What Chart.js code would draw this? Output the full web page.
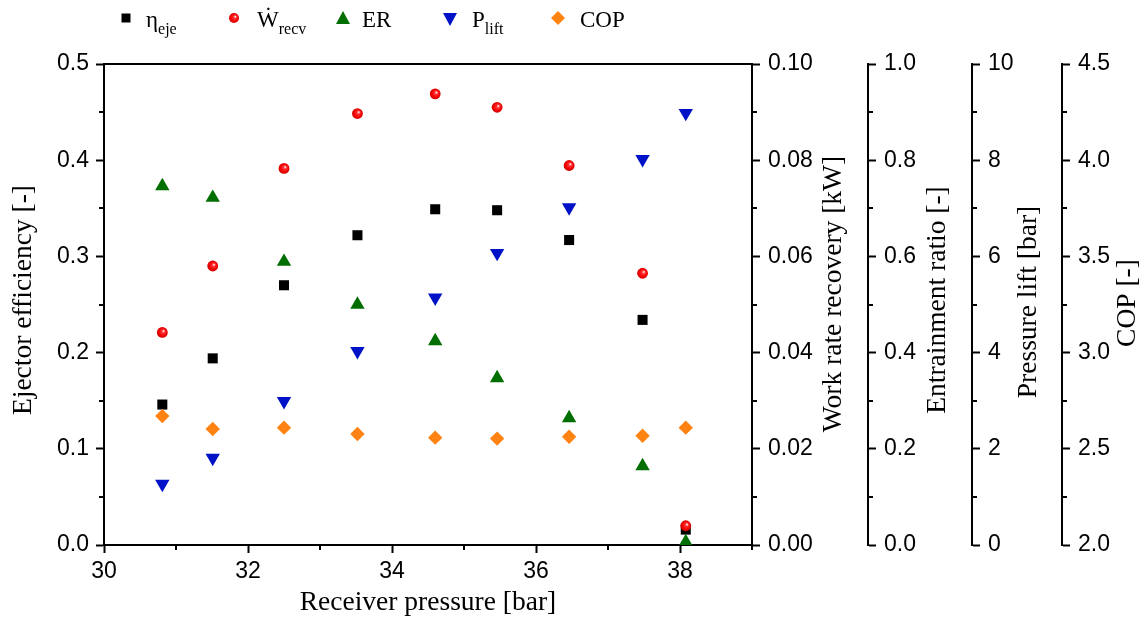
<!DOCTYPE html>
<html><head><meta charset="utf-8">
<script src="https://cdn.jsdelivr.net/npm/chart.js@4"></script>
<style>html,body{margin:0;padding:0;background:#fff}#wrap{width:1146px;height:634px}</style>
</head><body><div id="wrap"><canvas id="c" width="1146" height="634"></canvas></div>
<script>
// ---- data ----
const pressure = [30.81, 31.51, 32.50, 33.52, 34.60, 35.46, 36.46, 37.48, 38.08];
const etaEje   = [0.146, 0.194, 0.270, 0.322, 0.349, 0.348, 0.317, 0.234, 0.016];
const wRecv    = [0.0442, 0.0580, 0.0783, 0.0897, 0.0938, 0.0910, 0.0789, 0.0565, 0.0040];
const entRatio = [0.746, 0.722, 0.589, 0.500, 0.424, 0.347, 0.264, 0.164, 0.006];
const pLift    = [1.27, 1.81, 2.99, 4.03, 5.14, 6.07, 7.02, 8.02, 8.98];
const cop      = [2.670, 2.603, 2.610, 2.577, 2.558, 2.553, 2.563, 2.568, 2.610];
const xTicks   = [30, 32, 34, 36, 38];
const xMinor   = [31, 33, 35, 37, 39];

const SANS = '"Liberation Sans", Arial, sans-serif';
const SERIF = '"Liberation Serif", "Times New Roman", "DejaVu Serif", serif';
const C_BLACK = '#000000', C_RED = '#ff0000', C_GREEN = '#006e00', C_BLUE = '#0012c8', C_ORANGE = '#ff8312';

function pts(ys) { return pressure.map((x, i) => ({ x, y: ys[i] })); }

function redFill(ctx) {
  if (!ctx.parsed || !ctx.chart.scales.x) return C_RED;
  const ch = ctx.chart;
  const px = ch.scales.x.getPixelForValue(ctx.parsed.x);
  const py = ch.scales.y2.getPixelForValue(ctx.parsed.y);
  if (!isFinite(px) || !isFinite(py)) return C_RED;
  const g = ch.ctx.createRadialGradient(px + 1.5, py - 1.5, 0, px, py, 5.8);
  g.addColorStop(0, '#ffffff');
  g.addColorStop(0.3, '#ff3030');
  g.addColorStop(0.7, '#f00000');
  g.addColorStop(1, '#c80000');
  return g;
}

function yAxis(pos, min, max, step, dec, width, weight) {
  return {
    type: 'linear', position: pos, min, max, weight,
    ticks: { stepSize: step, font: { family: SANS, size: 23 }, color: '#000',
             padding: pos === 'left' ? 7 : 8, callback: v => Number(v).toFixed(dec) },
    grid: { drawOnChartArea: false, drawTicks: true, tickLength: 8, tickWidth: 2, tickColor: '#000' },
    border: { display: true, color: '#000', width: 2 },
    afterFit: s => { s.width = width; }
  };
}

const frame = {
  id: 'frame',
  afterDraw(chart) {
    const ctx = chart.ctx, a = chart.chartArea;
    ctx.save();
    ctx.strokeStyle = '#000'; ctx.lineWidth = 2;
    ctx.beginPath(); ctx.moveTo(a.left - 1, a.top); ctx.lineTo(a.right + 1, a.top); ctx.stroke();
    // minor ticks
    const L = 5;
    const sx = chart.scales.x;
    ctx.beginPath();
    xMinor.forEach(v => { const p = Math.round(sx.getPixelForValue(v)); ctx.moveTo(p, sx.top); ctx.lineTo(p, sx.top + L); });
    ['y1', 'y2', 'y3', 'y4', 'y5'].forEach(id => {
      const s = chart.scales[id];
      const t = s.ticks.map(k => k.value);
      for (let i = 0; i < t.length - 1; i++) {
        const p = Math.round(s.getPixelForValue((t[i] + t[i + 1]) / 2));
        if (s.position === 'left') { ctx.moveTo(s.right, p); ctx.lineTo(s.right - L, p); }
        else { ctx.moveTo(s.left, p); ctx.lineTo(s.left + L, p); }
      }
    });
    ctx.stroke();

    // axis titles
    ctx.fillStyle = '#000';
    ctx.font = '27.5px ' + SERIF;
    ctx.textAlign = 'center'; ctx.textBaseline = 'middle';
    ctx.fillText('Receiver pressure [bar]', (a.left + a.right) / 2, 603);
    const vt = (txt, x, y) => { ctx.save(); ctx.translate(x, y); ctx.rotate(-Math.PI / 2); ctx.fillText(txt, 0, 0); ctx.restore(); };
    vt('Ejector efficiency [-]', 24, 300);
    vt('Work rate recovery [kW]', chart.scales.y2.left + 82, 294);
    vt('Entrainment ratio [-]', chart.scales.y3.left + 70, 300);
    vt('Pressure lift [bar]', chart.scales.y4.left + 57, 302);
    vt('COP [-]', chart.scales.y5.left + 66, 303);

    // legend
    const base = 27, subBase = 34;
    const label = (x, main, sub) => {
      ctx.textAlign = 'left'; ctx.textBaseline = 'alphabetic';
      ctx.font = '23px ' + SERIF; ctx.fillText(main, x, base);
      if (sub) { const w = ctx.measureText(main).width; ctx.font = '16px ' + SERIF; ctx.fillText(sub, x + w, subBase); }
    };
    // square
    ctx.fillStyle = C_BLACK; ctx.fillRect(126 - 4.5, 18 - 4.5, 9, 9);
    ctx.fillStyle = '#000'; label(146, 'η', 'eje');
    // circle
    const g = ctx.createRadialGradient(235.5, 16.5, 0, 234, 18, 5.5);
    g.addColorStop(0, '#ffffff'); g.addColorStop(0.3, '#ff3030'); g.addColorStop(0.7, '#f00000'); g.addColorStop(1, '#c80000');
    ctx.fillStyle = g; ctx.beginPath(); ctx.arc(234, 18, 5, 0, Math.PI * 2); ctx.fill();
    ctx.fillStyle = '#000'; label(257, 'Ẇ', 'recv');
    // up triangle
    ctx.fillStyle = C_GREEN; ctx.beginPath(); ctx.moveTo(343, 11); ctx.lineTo(350, 24); ctx.lineTo(336, 24); ctx.closePath(); ctx.fill();
    ctx.fillStyle = '#000'; label(362, 'ER');
    // down triangle
    ctx.fillStyle = C_BLUE; ctx.beginPath(); ctx.moveTo(443, 13); ctx.lineTo(457, 13); ctx.lineTo(450, 26); ctx.closePath(); ctx.fill();
    ctx.fillStyle = '#000'; label(472, 'P', 'lift');
    // diamond
    ctx.fillStyle = C_ORANGE; ctx.beginPath(); ctx.moveTo(558, 11); ctx.lineTo(565, 18); ctx.lineTo(558, 25); ctx.lineTo(551, 18); ctx.closePath(); ctx.fill();
    ctx.fillStyle = '#000'; label(580, 'COP');
    ctx.restore();
  }
};

new Chart(document.getElementById('c'), {
  type: 'scatter',
  data: {
    datasets: [
      { label: 'ηeje', data: pts(etaEje), yAxisID: 'y1', pointStyle: 'rect', pointRadius: 7.1, backgroundColor: C_BLACK, borderWidth: 0, order: 5 },
      { label: 'Wrecv', data: pts(wRecv), yAxisID: 'y2', pointStyle: 'circle', pointRadius: 5.4, backgroundColor: redFill, borderWidth: 0, order: 1 },
      { label: 'ER', data: pts(entRatio), yAxisID: 'y3', pointStyle: 'triangle', pointRadius: 8.3, backgroundColor: C_GREEN, borderWidth: 0, order: 4 },
      { label: 'Plift', data: pts(pLift), yAxisID: 'y4', pointStyle: 'triangle', rotation: 180, pointRadius: 8.3, backgroundColor: C_BLUE, borderWidth: 0, order: 3 },
      { label: 'COP', data: pts(cop), yAxisID: 'y5', pointStyle: 'rectRot', pointRadius: 7.2, backgroundColor: C_ORANGE, borderWidth: 0, order: 2 }
    ]
  },
  options: {
    responsive: false, animation: false, devicePixelRatio: 1,
    events: [],
    layout: { padding: { top: 64, left: 0, right: 0, bottom: 0 } },
    plugins: { legend: { display: false }, tooltip: { enabled: false } },
    scales: {
      x: {
        type: 'linear', position: 'bottom', min: 30, max: 39,
        afterBuildTicks: s => { s.ticks = xTicks.map(v => ({ value: v })); },
        ticks: { font: { family: SANS, size: 23 }, color: '#000', padding: 5, maxRotation: 0, autoSkip: false, callback: v => String(v) },
        grid: { drawOnChartArea: false, drawTicks: true, tickLength: 8, tickWidth: 2, tickColor: '#000' },
        border: { display: true, color: '#000', width: 2 },
        afterFit: s => { s.height = 89; }
      },
      y1: yAxis('left', 0, 0.5, 0.1, 1, 104, 0),
      y2: yAxis('right', 0, 0.1, 0.02, 2, 116, 0),
      y3: yAxis('right', 0, 1, 0.2, 1, 104, 1),
      y4: yAxis('right', 0, 10, 2, 0, 90, 2),
      y5: yAxis('right', 2, 4.5, 0.5, 1, 84, 3)
    }
  },
  plugins: [frame]
});
</script>
</body></html>
